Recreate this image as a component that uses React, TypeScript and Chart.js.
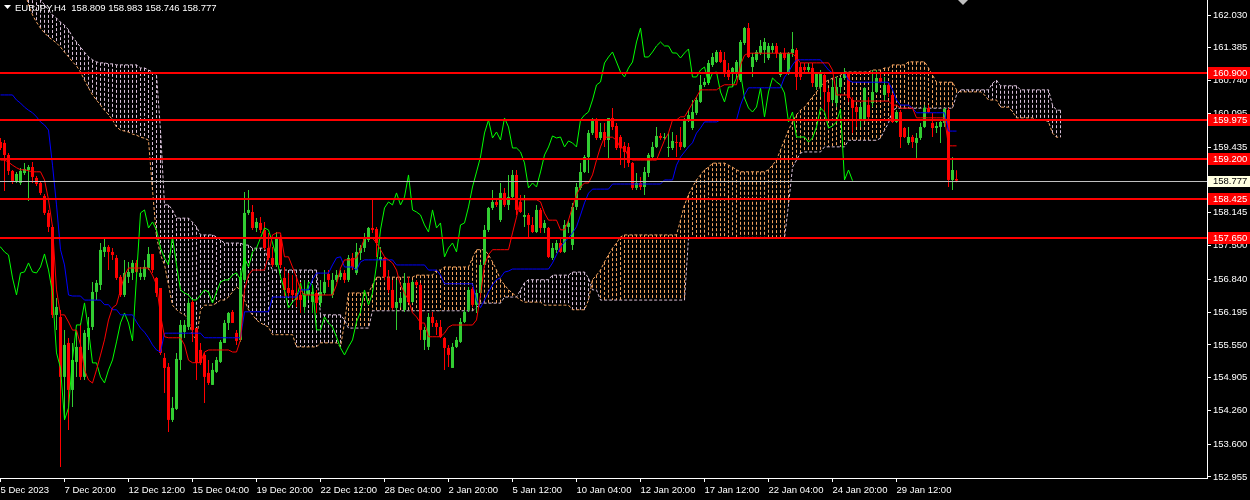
import React, { useEffect, useRef } from 'react';
import { Chart, registerables } from 'chart.js';

Chart.register(...registerables);

const TITLE = 'EURJPY,H4  158.809 158.983 158.746 158.777';

const tickBars = [0, 16, 32, 48, 64, 80, 96, 112, 128, 144, 160, 176, 192, 208, 224];
const tickLabels = ['5 Dec 2023', '7 Dec 20:00', '12 Dec 12:00', '15 Dec 04:00', '19 Dec 20:00', '22 Dec 12:00', '28 Dec 04:00', '2 Jan 20:00', '5 Jan 12:00', '10 Jan 04:00', '12 Jan 20:00', '17 Jan 12:00', '22 Jan 04:00', '24 Jan 20:00', '29 Jan 12:00'];
const priceTicks = [162.03, 161.385, 160.74, 160.095, 159.435, 158.79, 158.145, 157.5, 156.84, 156.195, 155.55, 154.905, 154.26, 153.6, 152.955];
const levelLines = [160.9, 159.975, 159.2, 158.425, 157.65];
const lastPrice = 158.777;

const opens = [
159.536,159.517,159.281,158.967,158.770,158.731,158.927,158.986,159.045,158.829,
158.731,158.476,158.142,157.867,156.138,156.099,154.921,155.588,154.665,155.215,
155.510,154.921,155.706,155.902,156.590,156.727,157.376,157.474,157.376,157.258,
156.885,156.531,156.885,156.963,157.160,156.885,156.885,157.061,157.336,156.865,
156.668,155.294,155.117,154.076,154.292,155.254,155.804,155.902,156.393,155.883,
155.451,155.353,154.999,154.764,155.019,155.215,155.588,155.981,156.197,155.785,
155.647,156.826,158.142,158.161,157.847,157.945,157.808,157.454,157.258,157.120,
157.670,156.865,156.668,156.629,156.570,156.531,156.295,156.531,156.393,156.570,
156.374,156.570,156.944,156.531,156.826,156.885,156.963,156.826,157.258,156.963,
157.356,157.454,157.611,157.847,157.827,157.219,157.258,156.865,156.629,156.276,
156.374,156.236,156.767,156.393,156.786,156.727,155.647,155.510,156.099,155.981,
155.902,155.686,155.490,155.097,155.510,155.608,156.001,156.236,156.649,156.335,
156.570,157.120,157.808,158.240,158.358,158.004,158.535,158.299,158.456,158.888,
158.358,158.063,158.102,157.906,157.768,158.201,157.847,157.847,157.258,157.415,
157.552,157.376,157.867,157.513,158.260,158.633,158.947,159.241,159.713,159.968,
159.615,159.732,159.575,160.007,159.850,159.634,159.458,159.438,159.124,158.633,
158.731,158.652,158.927,159.241,159.438,159.654,159.615,159.418,159.418,159.536,
159.536,159.438,159.968,159.811,160.106,160.322,160.656,160.695,161.048,161.107,
161.304,161.147,160.950,160.891,160.911,160.754,161.480,161.775,161.009,161.147,
161.284,161.343,161.186,161.343,161.422,160.852,161.284,160.891,161.284,161.343,
161.009,161.009,160.950,160.990,160.616,160.616,160.852,160.518,160.361,160.302,
160.616,160.793,160.891,160.361,160.223,159.968,159.968,160.263,160.302,160.518,
160.793,160.459,160.656,160.459,159.929,160.125,159.811,159.517,159.634,159.517,
159.615,159.831,160.204,159.909,159.811,159.831,159.909,160.165,158.790,158.809
];

const highs = [
159.615,159.575,159.320,158.986,158.947,159.025,159.124,159.084,159.143,158.868,
158.770,158.515,158.201,157.906,156.472,156.236,155.844,155.686,155.588,155.844,
155.981,155.844,156.099,156.786,156.826,157.552,157.670,157.513,157.454,157.317,
156.924,157.219,157.179,157.219,157.219,157.081,157.219,157.474,157.336,156.885,
156.668,155.392,155.196,154.528,155.392,156.040,156.040,156.472,156.433,155.883,
155.588,155.392,155.254,155.196,155.313,155.647,156.040,156.197,156.236,155.844,
157.022,158.554,158.593,158.299,158.043,158.063,157.965,157.749,157.474,157.768,
157.710,157.081,156.963,156.924,156.865,156.786,156.826,156.727,156.688,156.629,
156.826,157.022,157.022,156.963,157.022,157.022,157.022,157.317,157.356,157.552,
157.513,157.749,157.867,158.397,157.867,157.474,157.277,157.022,156.826,156.826,
156.570,156.963,156.885,156.826,156.826,156.767,155.902,156.177,156.197,156.040,
156.040,155.706,155.549,155.588,155.706,156.079,156.236,156.688,156.688,156.629,
157.179,157.906,158.260,158.593,158.436,158.731,158.633,158.888,158.986,158.986,
158.495,158.495,158.142,158.063,158.299,158.240,158.004,157.867,157.552,157.611,
157.670,158.004,158.004,158.338,158.731,159.124,159.281,159.772,160.007,160.007,
159.909,159.909,160.007,160.204,159.909,159.673,159.536,159.517,159.143,158.927,
158.849,159.045,159.320,159.536,159.831,159.713,159.713,159.713,159.732,159.673,
159.831,160.007,160.165,160.361,160.420,160.852,160.793,161.147,161.284,161.343,
161.343,161.304,161.088,161.009,161.147,161.539,161.795,161.873,161.284,161.343,
161.539,161.579,161.480,161.480,161.480,161.304,161.382,161.304,161.697,161.382,
161.088,161.088,161.088,161.088,160.911,160.950,160.891,160.597,160.754,160.813,
160.813,160.990,160.911,160.420,160.263,160.302,160.616,160.420,160.950,160.950,
160.891,160.813,160.695,160.498,160.165,160.165,159.831,159.831,159.673,159.713,
159.909,160.263,160.263,160.106,159.929,159.988,160.204,160.204,159.241,158.983
];

const lows = [
159.379,158.574,158.888,158.711,158.731,158.692,158.888,158.377,158.731,158.672,
158.495,158.102,157.768,156.079,155.844,153.153,154.076,153.880,154.331,154.921,
154.862,154.862,155.451,155.844,156.433,156.629,157.277,157.022,157.219,156.826,
156.492,156.492,156.767,156.826,156.963,156.826,156.826,157.022,156.963,156.492,
155.353,154.607,153.840,154.037,154.273,155.058,155.686,155.844,155.608,154.862,
155.156,154.410,154.764,154.764,154.999,155.196,155.588,155.844,155.981,155.549,
155.608,156.786,158.102,157.808,157.768,157.749,157.415,157.219,157.081,157.081,
157.061,156.492,156.492,156.433,156.295,156.177,156.177,156.433,156.177,156.177,
156.295,156.531,156.688,156.472,156.786,156.826,156.767,156.786,157.022,156.924,
157.219,157.376,157.572,157.749,157.277,157.081,156.826,156.570,156.236,155.844,
156.295,156.197,156.374,156.374,156.688,155.647,155.451,155.451,155.902,155.745,
155.686,155.058,155.117,155.097,155.490,155.588,155.981,156.197,156.295,156.177,
156.531,157.081,157.768,158.201,158.260,157.965,158.260,158.201,158.436,158.102,
158.142,157.867,157.670,157.749,157.749,157.749,157.749,157.258,157.219,157.356,
157.356,157.356,157.749,157.415,158.201,158.593,158.927,158.927,159.673,159.575,
159.575,159.438,159.222,159.772,159.379,159.084,159.025,159.045,158.593,158.593,
158.593,158.495,158.849,159.183,159.418,159.575,159.575,159.241,159.379,159.241,
159.379,159.418,159.929,159.772,160.066,160.302,160.616,160.656,161.009,161.088,
161.088,160.813,160.754,160.616,160.793,160.715,161.441,161.186,160.813,161.107,
161.245,161.088,161.147,161.284,161.186,160.813,161.147,160.852,161.205,160.557,
160.754,160.891,160.891,160.616,160.557,160.420,160.106,159.968,160.302,160.223,
160.498,160.754,160.322,159.713,159.831,159.831,159.929,159.968,160.223,160.498,
160.695,160.361,160.420,159.909,159.909,159.418,159.615,159.477,159.418,159.222,
159.575,159.811,160.106,159.634,159.713,159.517,159.831,158.652,158.593,158.746
];

const closes = [
159.418,159.281,158.967,158.750,158.908,158.967,159.006,159.045,158.849,158.711,
158.535,158.142,157.867,156.138,156.295,154.921,155.549,154.665,155.254,155.510,
154.921,155.785,155.883,156.590,156.767,157.415,157.474,157.376,157.317,156.865,
156.531,156.963,156.983,157.160,156.983,156.963,157.081,157.336,157.022,156.570,
155.392,155.097,154.076,154.312,155.274,155.942,155.942,156.374,155.844,155.196,
155.196,154.921,154.803,155.058,155.254,155.608,155.981,156.177,155.981,155.628,
156.885,158.142,158.201,157.847,157.965,157.808,157.454,157.258,157.120,157.670,
157.120,156.629,156.570,156.531,156.433,156.433,156.531,156.629,156.590,156.374,
156.590,156.786,156.826,156.826,156.924,156.963,156.826,157.258,157.081,157.376,
157.454,157.651,157.847,157.808,157.552,157.277,156.885,156.629,156.276,156.393,
156.472,156.767,156.393,156.786,156.727,155.844,155.844,156.099,155.981,155.902,
155.706,155.490,155.353,155.510,155.647,156.001,156.197,156.629,156.335,156.570,
157.120,157.808,158.240,158.358,158.299,158.535,158.299,158.456,158.888,158.201,
158.161,158.102,157.906,157.768,158.201,157.847,157.945,157.277,157.454,157.552,
157.376,157.906,157.945,158.260,158.652,158.947,159.241,159.713,159.968,159.615,
159.732,159.575,160.007,159.831,159.418,159.418,159.340,159.124,158.633,158.731,
158.652,158.947,159.281,159.438,159.654,159.615,159.634,159.438,159.556,159.517,
159.438,159.968,160.066,160.125,160.361,160.656,160.715,161.088,161.205,161.304,
161.107,160.911,160.813,160.990,161.107,161.500,161.775,161.205,161.205,161.304,
161.422,161.500,161.422,161.422,161.284,161.284,161.186,161.284,161.363,160.813,
160.813,160.950,161.009,160.695,160.891,160.911,160.518,160.322,160.616,160.616,
160.793,160.891,160.400,160.204,160.125,160.223,160.597,160.027,160.518,160.793,
160.715,160.656,160.498,159.929,160.125,159.634,159.634,159.634,159.536,159.615,
159.831,160.204,160.125,159.811,159.850,159.929,160.184,158.790,158.986,158.777
];

const tenkan = [
159.18,159.18,159.14,159.08,159.03,158.99,158.99,158.97,158.95,158.95,
158.95,158.79,158.40,157.87,156.63,156.14,156.14,156.00,155.84,155.84,
155.55,155.06,154.86,154.80,155.06,155.35,155.65,156.04,156.28,156.34,
156.63,156.92,157.06,157.06,157.06,157.06,157.06,157.06,156.92,156.73,
156.14,155.71,155.69,155.69,155.69,155.69,155.55,155.25,155.20,155.20,
155.20,155.41,155.45,155.45,155.45,155.45,155.45,155.45,155.41,155.41,
155.65,156.63,156.92,157.02,157.02,157.02,157.02,157.32,157.71,157.75,
157.75,157.28,157.28,157.08,156.88,156.63,156.53,156.53,156.53,156.53,
156.53,156.53,156.53,156.53,156.73,157.06,157.22,157.22,157.22,157.26,
157.42,157.65,157.65,157.65,157.55,157.42,157.28,157.22,157.16,157.02,
156.73,156.57,156.43,156.18,156.10,155.98,155.98,155.71,155.71,155.71,
155.71,155.78,155.90,155.94,155.94,155.94,155.94,155.94,155.94,156.04,
156.53,157.12,157.32,157.42,157.42,157.42,157.42,157.42,157.75,158.06,
158.40,158.40,158.40,158.40,158.40,158.36,158.14,158.00,158.00,158.00,
157.81,157.81,158.00,158.26,158.50,158.65,158.73,158.73,158.89,159.18,
159.44,159.63,159.63,159.63,159.57,159.42,159.42,159.24,159.18,159.18,
159.18,159.18,159.18,159.18,159.18,159.38,159.57,159.71,159.97,159.97,
160.03,160.03,160.16,160.30,160.42,160.56,160.56,160.56,160.56,160.56,
160.62,160.66,160.66,160.66,160.66,161.05,161.24,161.28,161.28,161.28,
161.28,161.28,161.28,161.28,161.28,161.28,161.28,161.28,161.28,161.19,
161.09,161.09,161.09,161.09,161.09,161.09,161.09,161.09,160.95,160.46,
160.46,160.46,160.46,160.34,160.34,160.34,160.34,160.34,160.34,160.34,
160.34,160.34,160.34,160.26,160.26,160.20,160.20,160.20,160.20,160.01,
160.01,160.01,160.01,160.01,160.01,160.01,160.01,159.46,159.46,159.46
];

const kijun = [
160.46,160.46,160.46,160.46,160.36,160.30,160.22,160.16,160.11,160.03,
159.93,159.87,159.77,159.08,158.30,157.42,157.12,156.53,156.51,156.51,
156.51,156.43,156.43,156.43,156.43,156.43,156.34,156.34,156.24,156.24,
156.14,156.14,156.14,156.14,156.00,155.88,155.80,155.69,155.55,155.45,
155.41,155.78,155.78,155.78,155.78,155.78,155.78,155.78,155.78,155.78,
155.78,155.69,155.69,155.69,155.69,155.69,155.69,155.69,155.69,155.69,
155.69,156.20,156.20,156.20,156.20,156.20,156.20,156.20,156.49,156.49,
156.49,156.49,156.49,156.49,156.49,156.63,156.63,156.63,156.83,156.96,
156.96,156.96,156.96,157.12,157.26,157.28,157.08,157.08,157.08,157.02,
157.18,157.22,157.22,157.22,157.22,157.22,157.22,157.22,157.22,157.12,
157.12,157.12,157.12,157.12,157.12,157.12,157.12,157.02,157.02,157.02,
156.92,156.75,156.75,156.75,156.75,156.75,156.75,156.75,156.75,156.43,
156.28,156.43,156.59,156.73,156.83,156.87,156.98,157.00,157.04,157.04,
157.04,157.04,157.04,157.04,157.04,157.04,157.04,157.04,157.16,157.32,
157.47,157.57,157.65,157.75,157.87,158.10,158.34,158.53,158.61,158.61,
158.61,158.61,158.61,158.71,158.71,158.71,158.71,158.71,158.71,158.71,
158.71,158.71,158.71,158.71,158.71,158.71,158.79,158.79,158.79,159.08,
159.24,159.34,159.44,159.52,159.71,159.81,159.93,159.93,159.93,159.93,
159.97,159.97,159.97,159.97,159.97,160.26,160.46,160.60,160.60,160.60,
160.60,160.60,160.60,160.60,160.60,160.60,160.81,160.91,161.05,161.15,
161.15,161.15,161.15,161.15,161.15,161.15,161.05,160.95,160.89,160.89,
160.89,160.89,160.75,160.71,160.71,160.71,160.71,160.71,160.71,160.71,
160.71,160.71,160.71,160.56,160.36,160.26,160.26,160.26,160.20,160.11,
160.11,160.11,160.11,160.11,160.11,160.11,160.11,159.75,159.75,159.75
];

const spanA = [
163.50,163.41,163.27,163.11,162.91,162.72,162.52,162.23,162.03,161.89,
161.77,161.68,161.60,161.54,161.48,161.40,161.30,161.21,161.11,161.03,
160.91,160.75,160.60,160.46,160.36,160.26,160.16,160.07,159.97,159.83,
159.77,159.75,159.73,159.69,159.67,159.63,159.61,159.57,158.59,157.67,
157.32,157.12,156.73,156.33,156.24,156.18,156.14,156.04,155.75,155.65,
156.24,156.33,156.33,156.33,156.37,156.43,156.43,156.49,156.59,156.69,
156.63,156.43,156.24,156.14,156.04,155.98,155.94,155.90,155.75,155.75,
155.75,155.75,155.75,155.75,155.51,155.51,155.51,155.51,155.51,155.51,
155.59,155.59,155.59,155.59,155.59,155.51,155.98,156.57,156.57,156.57,
156.57,156.57,156.57,156.73,156.88,156.88,156.88,156.88,156.88,156.88,
156.88,156.88,156.88,156.88,156.92,156.92,156.92,156.92,156.92,157.02,
157.02,157.08,157.08,157.08,157.08,157.08,157.08,157.08,157.26,157.42,
157.42,157.42,157.32,157.18,157.02,156.83,156.73,156.63,156.57,156.49,
156.43,156.39,156.39,156.39,156.39,156.39,156.33,156.33,156.33,156.33,
156.33,156.33,156.33,156.24,156.24,156.24,156.24,156.43,156.83,156.92,
157.02,157.18,157.32,157.45,157.55,157.67,157.71,157.71,157.71,157.71,
157.71,157.71,157.71,157.71,157.71,157.71,157.71,157.71,157.71,157.71,
158.00,158.30,158.50,158.65,158.79,158.89,158.99,159.04,159.12,159.12,
159.12,159.12,159.08,159.04,158.99,158.95,158.95,158.95,158.95,158.95,
158.95,158.95,158.99,159.08,159.18,159.38,159.57,159.77,159.93,160.07,
160.16,160.22,160.32,160.42,160.52,160.62,160.71,160.75,160.79,160.81,
160.85,160.91,160.91,160.91,160.91,160.91,160.91,160.91,160.95,160.95,
160.95,160.99,160.99,161.05,161.05,161.05,161.05,161.11,161.11,161.11,
161.11,161.11,160.99,160.85,160.71,160.71,160.71,160.71,160.71,160.56,
160.52,160.52,160.52,160.52,160.52,160.52,160.46,160.36,160.36,160.36,
160.22,160.22,160.22,160.13,160.01,160.01,160.01,160.01,160.01,159.97,
159.97,159.97,159.93,159.71,159.63,159.63
];

const spanB = [
163.90,163.80,163.70,163.50,163.31,163.11,162.91,162.62,162.42,162.38,
162.33,162.23,162.13,162.03,161.97,161.89,161.83,161.74,161.60,161.50,
161.40,161.30,161.21,161.15,161.11,161.09,161.09,161.07,161.07,161.05,
161.05,161.05,161.05,161.05,161.05,160.99,160.99,160.95,160.91,160.85,
159.77,158.30,158.30,158.20,158.04,158.04,158.04,158.04,157.96,157.87,
157.71,157.71,157.71,157.71,157.67,157.61,157.55,157.55,157.55,157.55,
157.55,157.51,157.51,157.45,157.45,157.45,157.45,157.18,157.02,157.02,
157.02,157.02,157.02,157.02,157.02,157.02,157.02,157.02,157.02,157.02,
156.14,156.14,156.14,156.14,156.14,156.14,156.04,155.88,155.88,155.88,
155.88,155.88,155.88,156.22,156.22,156.22,156.22,156.22,156.22,156.22,
156.22,156.22,156.22,156.22,156.22,156.22,156.22,156.22,156.22,156.22,
156.22,156.22,156.22,156.22,156.22,156.22,156.22,156.22,156.22,156.28,
156.37,156.37,156.37,156.37,156.37,156.37,156.49,156.49,156.49,156.49,
156.63,156.77,156.83,156.83,156.83,156.83,156.83,156.83,156.92,156.92,
156.92,156.92,156.92,156.98,156.98,156.98,156.98,156.86,156.63,156.63,
156.43,156.43,156.43,156.43,156.43,156.43,156.43,156.43,156.43,156.43,
156.43,156.43,156.43,156.43,156.43,156.43,156.43,156.43,156.43,156.43,
156.43,156.43,157.65,157.65,157.65,157.65,157.65,157.65,157.65,157.65,
157.65,157.65,157.65,157.65,157.65,157.65,157.65,157.65,157.65,157.65,
157.65,157.65,157.65,157.65,157.65,157.65,157.65,158.30,159.04,159.18,
159.32,159.34,159.34,159.34,159.34,159.34,159.44,159.44,159.44,159.44,
159.44,159.44,159.57,159.57,159.57,159.57,159.57,159.57,159.57,159.57,
159.61,159.77,159.91,160.16,160.20,160.20,160.20,160.20,160.20,160.20,
160.20,160.20,160.20,160.20,160.20,160.20,160.20,160.20,160.20,160.46,
160.56,160.56,160.56,160.56,160.56,160.56,160.56,160.56,160.69,160.75,
160.64,160.64,160.64,160.64,160.64,160.56,160.56,160.56,160.56,160.56,
160.56,160.56,160.56,160.26,160.16,160.16
];

const CHIKOU_SHIFT = 26;

const BULL = '#32CD32';
const BEAR = '#FF0000';
const TENKAN_COLOR = '#FF0000';
const KIJUN_COLOR = '#0000FF';
const CHIKOU_COLOR = '#00FF00';
const SANDY = '#F4A460';
const THISTLE = '#D8BFD8';
const AXIS = '#FFFFFF';
const FONT_FAMILY = "'Liberation Sans', Arial, sans-serif";
const FONT_SIZE = 9.5;

export default function App() {
  const canvasRef = useRef<HTMLCanvasElement | null>(null);

  useEffect(() => {
    document.body.style.margin = '0';
    document.body.style.background = '#000';
    const canvas = canvasRef.current;
    if (!canvas) return;

    const candleColors = closes.map((c, i) => (c >= opens[i] ? BULL : BEAR));

    const cloudPlugin = {
      id: 'cloudHatch',
      beforeDatasetsDraw(chart: any) {
        const { ctx, chartArea, scales } = chart;
        const xs = scales.x;
        const ys = scales.y;
        ctx.save();
        ctx.beginPath();
        ctx.rect(chartArea.left, chartArea.top, chartArea.right - chartArea.left, chartArea.bottom - chartArea.top);
        ctx.clip();
        ctx.lineWidth = 1;
        ctx.setLineDash([3, 2]);
        for (let i = 0; i < spanA.length; i++) {
          const px = xs.getPixelForValue(i);
          const ya = ys.getPixelForValue(spanA[i]);
          const yb = ys.getPixelForValue(spanB[i]);
          ctx.strokeStyle = spanA[i] >= spanB[i] ? SANDY : THISTLE;
          ctx.beginPath();
          ctx.moveTo(px, Math.min(ya, yb));
          ctx.lineTo(px, Math.max(ya, yb));
          ctx.stroke();
        }
        ctx.restore();
      },
    };

    const overlayPlugin = {
      id: 'overlay',
      afterDatasetsDraw(chart: any) {
        const { ctx, chartArea, scales } = chart;
        const ys = scales.y;
        ctx.save();
        ctx.fillStyle = '#C0C0C0';
        const lp = Math.round(ys.getPixelForValue(lastPrice));
        ctx.fillRect(chartArea.left, lp, chartArea.right - chartArea.left, 1);
        ctx.fillStyle = '#FF0000';
        levelLines.forEach((lv) => {
          const py = Math.round(ys.getPixelForValue(lv));
          ctx.fillRect(chartArea.left, py - 1, chartArea.right - chartArea.left, 2);
        });
        ctx.restore();
      },
      afterDraw(chart: any) {
        const { ctx, chartArea, scales } = chart;
        const ys = scales.y;
        ctx.save();
        ctx.font = `${FONT_SIZE}px ${FONT_FAMILY}`;
        ctx.textBaseline = 'middle';
        ctx.textAlign = 'left';
        levelLines.forEach((lv) => {
          const py = Math.round(ys.getPixelForValue(lv));
          ctx.fillStyle = '#FF0000';
          ctx.fillRect(chartArea.right + 1, py - 6, 42, 12);
          ctx.fillStyle = '#FFFFFF';
          ctx.fillText(lv.toFixed(3), chartArea.right + 6, py + 0.5);
        });
        const lp = Math.round(ys.getPixelForValue(lastPrice));
        ctx.fillStyle = '#FFFFE0';
        ctx.fillRect(chartArea.right + 1, lp - 5, 42, 11);
        ctx.fillStyle = '#000000';
        ctx.fillText(lastPrice.toFixed(3), chartArea.right + 6, lp + 0.5);

        // title
        ctx.fillStyle = '#FFFFFF';
        ctx.beginPath();
        ctx.moveTo(4, 5);
        ctx.lineTo(11, 5);
        ctx.lineTo(7.5, 9);
        ctx.closePath();
        ctx.fill();
        ctx.textBaseline = 'alphabetic';
        ctx.fillText(TITLE, 15, 11);

        // chart shift marker
        ctx.fillStyle = '#C0C0C0';
        ctx.beginPath();
        ctx.moveTo(958, 0);
        ctx.lineTo(968, 0);
        ctx.lineTo(963, 5);
        ctx.closePath();
        ctx.fill();
        ctx.restore();
      },
    };

    const chart = new Chart(canvas, {
      type: 'bar',
      data: {
        datasets: [
          {
            type: 'line',
            data: tenkan.map((v, i) => ({ x: i, y: v })),
            borderColor: TENKAN_COLOR,
            borderWidth: 1,
            pointRadius: 0,
            tension: 0,
            order: 1,
          },
          {
            type: 'line',
            data: kijun.map((v, i) => ({ x: i, y: v })),
            borderColor: KIJUN_COLOR,
            borderWidth: 1,
            pointRadius: 0,
            tension: 0,
            order: 1,
          },
          {
            type: 'line',
            data: closes.map((v, i) => ({ x: i - CHIKOU_SHIFT, y: v })),
            borderColor: CHIKOU_COLOR,
            borderWidth: 1,
            pointRadius: 0,
            tension: 0,
            order: 1,
          },
          {
            type: 'line',
            data: spanA.map((v, i) => ({ x: i, y: v })),
            borderColor: SANDY,
            borderWidth: 1,
            borderDash: [3, 2],
            pointRadius: 0,
            tension: 0,
            order: 4,
          },
          {
            type: 'line',
            data: spanB.map((v, i) => ({ x: i, y: v })),
            borderColor: THISTLE,
            borderWidth: 1,
            borderDash: [3, 2],
            pointRadius: 0,
            tension: 0,
            order: 4,
          },
          {
            type: 'bar',
            data: opens.map((o, i) => ({ x: i, y: [lows[i], highs[i]] })) as any,
            backgroundColor: candleColors,
            barThickness: 1,
            grouped: false,
            inflateAmount: 0,
            borderWidth: 0,
            borderSkipped: false,
            minBarLength: 1,
            order: 2,
          } as any,
          {
            type: 'bar',
            data: opens.map((o, i) => ({ x: i, y: [o, closes[i]] })) as any,
            backgroundColor: candleColors,
            barThickness: 3,
            grouped: false,
            inflateAmount: 0,
            borderWidth: 0,
            borderSkipped: false,
            minBarLength: 1,
            order: 2,
          } as any,
        ],
      },
      options: {
        animation: false,
        responsive: false,
        maintainAspectRatio: false,
        events: [],
        layout: { padding: 0 },
        plugins: { legend: { display: false }, tooltip: { enabled: false } },
        scales: {
          x: {
            type: 'linear',
            position: 'bottom',
            min: -0.125,
            max: 301.625,
            offset: false,
            afterBuildTicks: (s: any) => {
              s.ticks = tickBars.map((v) => ({ value: v }));
            },
            afterFit: (s: any) => {
              s.height = 22;
              s.paddingLeft = 0;
              s.paddingRight = 0;
            },
            ticks: {
              autoSkip: false,
              maxRotation: 0,
              minRotation: 0,
              align: 'start',
              padding: 3,
              color: AXIS,
              font: { family: FONT_FAMILY, size: FONT_SIZE },
              callback: (v: any) => {
                const k = tickBars.indexOf(Number(v));
                return k >= 0 ? tickLabels[k] : '';
              },
            },
            grid: { display: true, drawOnChartArea: false, drawTicks: true, tickLength: 4, color: AXIS, offset: false },
            border: { display: true, color: AXIS, width: 1 },
          } as any,
          y: {
            type: 'linear',
            position: 'right',
            min: 152.935,
            max: 162.325,
            afterBuildTicks: (s: any) => {
              s.ticks = priceTicks.map((v) => ({ value: v }));
            },
            afterFit: (s: any) => {
              s.width = 43;
              s.paddingTop = 0;
              s.paddingBottom = 0;
            },
            ticks: {
              autoSkip: false,
              padding: 2,
              color: AXIS,
              font: { family: FONT_FAMILY, size: FONT_SIZE },
              callback: (v: any) => Number(v).toFixed(3),
            },
            grid: { display: true, drawOnChartArea: false, drawTicks: true, tickLength: 4, color: AXIS },
            border: { display: true, color: AXIS, width: 1 },
          } as any,
        },
      },
      plugins: [cloudPlugin, overlayPlugin],
    } as any);

    return () => {
      chart.destroy();
    };
  }, []);

  return (
    <div style={{ position: 'fixed', left: 0, top: 0, width: 1250, height: 500, background: '#000' }}>
      <canvas ref={canvasRef} width={1250} height={500} style={{ display: 'block', width: 1250, height: 500 }} />
    </div>
  );
}
